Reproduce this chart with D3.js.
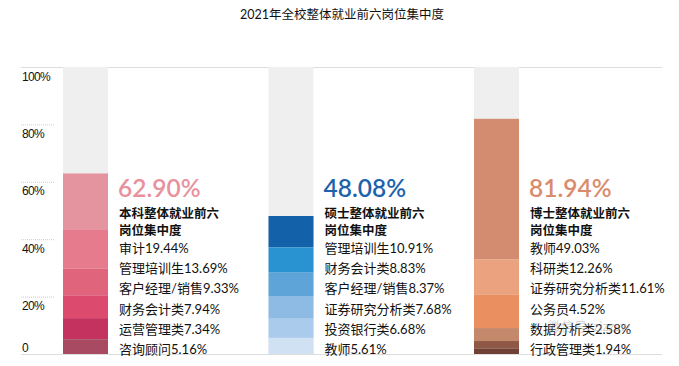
<!DOCTYPE html>
<html>
<head>
<meta charset="utf-8">
<script src="https://cdn.jsdelivr.net/npm/d3@7"></script>
<style>
  body { margin: 0; background: #fff; }
  svg { font-family: Lato, "Noto Sans CJK SC", sans-serif; }
</style>
</head>
<body>
<div id="chart"></div>
<script>
const title = '2021年全校整体就业前六岗位集中度';
const groups = ['本科', '硕士', '博士'];
const totals = [62.90, 48.08, 81.94];
const groupTitles = [['本科整体就业前六', '岗位集中度'], ['硕士整体就业前六', '岗位集中度'], ['博士整体就业前六', '岗位集中度']];

// top segment first
const bachelorJobs = ['审计', '管理培训生', '客户经理/销售', '财务会计类', '运营管理类', '咨询顾问'];
const bachelorValues = [19.44, 13.69, 9.33, 7.94, 7.34, 5.16];
const masterJobs = ['管理培训生', '财务会计类', '客户经理/销售', '证券研究分析类', '投资银行类', '教师'];
const masterValues = [10.91, 8.83, 8.37, 7.68, 6.68, 5.61];
const doctorJobs = ['教师', '科研类', '证券研究分析类', '公务员', '数据分析类', '行政管理类'];
const doctorValues = [49.03, 12.26, 11.61, 4.52, 2.58, 1.94];

const yTicks = [0, 20, 40, 60, 80, 100];
const tickLabels = ['0', '20%', '40%', '60%', '80%', '100%'];

const palettes = [
  ['#e4949f', '#e57b8d', '#e0657c', '#dc4a6e', '#c4325f', '#a84a62'],
  ['#1261a9', '#2993d2', '#5fa4d9', '#8dbbe4', '#abcbec', '#d0e1f3'],
  ['#d38c6f', '#eba27e', '#e98f60', '#c4886b', '#8f5846', '#6f4034']
];
const accent = ['#e8919c', '#1b63ab', '#d98b6b'];

const W = 679, H = 366;
const svg = d3.select('#chart').append('svg').attr('width', W).attr('height', H);

const y = d3.scaleLinear().domain([0, 100]).range([354, 67]);
const x = d3.scaleBand().domain(groups).range([63, 519]).paddingInner(0.781).paddingOuter(0);

svg.append('text')
  .attr('x', 342).attr('y', 19)
  .attr('text-anchor', 'middle')
  .attr('font-size', 12.5)
  .attr('fill', '#111')
  .text(title);

// axis
const axis = svg.append('g')
  .attr('transform', 'translate(21,0)')
  .call(d3.axisRight(y).tickValues(yTicks).tickSize(34).tickFormat((d, i) => tickLabels[i]));
axis.select('.domain').remove();
axis.selectAll('.tick line')
  .attr('stroke', '#ccc')
  .attr('stroke-dasharray', '1,1');
axis.selectAll('.tick').filter(d => d === 0 || d === 100).select('line')
  .attr('x2', 641).attr('stroke', '#ddd').attr('stroke-dasharray', null);
axis.selectAll('.tick text')
  .attr('x', 1).attr('dy', 0)
  .attr('y', d => d === 0 ? -3 : 13)
  .attr('font-size', 12).attr('fill', '#111')
  .attr('letter-spacing', -0.7)
  .attr('text-anchor', 'start');

const jobs = [bachelorJobs, masterJobs, doctorJobs];
const values = [bachelorValues, masterValues, doctorValues];

groups.forEach((g, gi) => {
  const bx = x(g), bw = x.bandwidth();
  const col = svg.append('g');

  col.append('rect')
    .attr('x', bx).attr('width', bw)
    .attr('y', y(100)).attr('height', y(0) - y(100))
    .attr('fill', '#efefef');

  // stack from the top of the total downwards
  let top = totals[gi];
  const segs = values[gi].map((v, i) => {
    const s = { y1: top, y0: top - v, i };
    top -= v;
    return s;
  });
  col.selectAll('rect.seg').data(segs).join('rect')
    .attr('class', 'seg')
    .attr('x', bx).attr('width', bw)
    .attr('y', d => y(d.y1))
    .attr('height', d => y(d.y0) - y(d.y1))
    .attr('fill', d => palettes[gi][d.i]);

  const tx = bx + bw + 11;
  col.append('text')
    .attr('x', tx - 1).attr('y', 197)
    .attr('font-size', 24.5).attr('font-weight', 600)
    .attr('fill', accent[gi])
    .text(totals[gi].toFixed(2) + '%');

  groupTitles[gi].forEach((t, k) => {
    col.append('text')
      .attr('x', tx).attr('y', 218 + k * 17)
      .attr('font-size', 12.5).attr('font-weight', 700)
      .attr('fill', '#111')
      .text(t);
  });

  col.selectAll('text.item').data(jobs[gi]).join('text')
    .attr('class', 'item')
    .attr('x', tx).attr('y', (d, i) => 253 + i * 20.2)
    .attr('font-size', 13)
    .attr('fill', '#111')
    .text((d, i) => d + values[gi][i].toFixed(2) + '%');
});

// watermark
svg.append('text')
  .attr('x', 548).attr('y', 331)
  .attr('font-size', 13)
  .attr('fill', '#aaa').attr('fill-opacity', 0.5)
  .text('微信号: zizzsw');
</script>
</body>
</html>
